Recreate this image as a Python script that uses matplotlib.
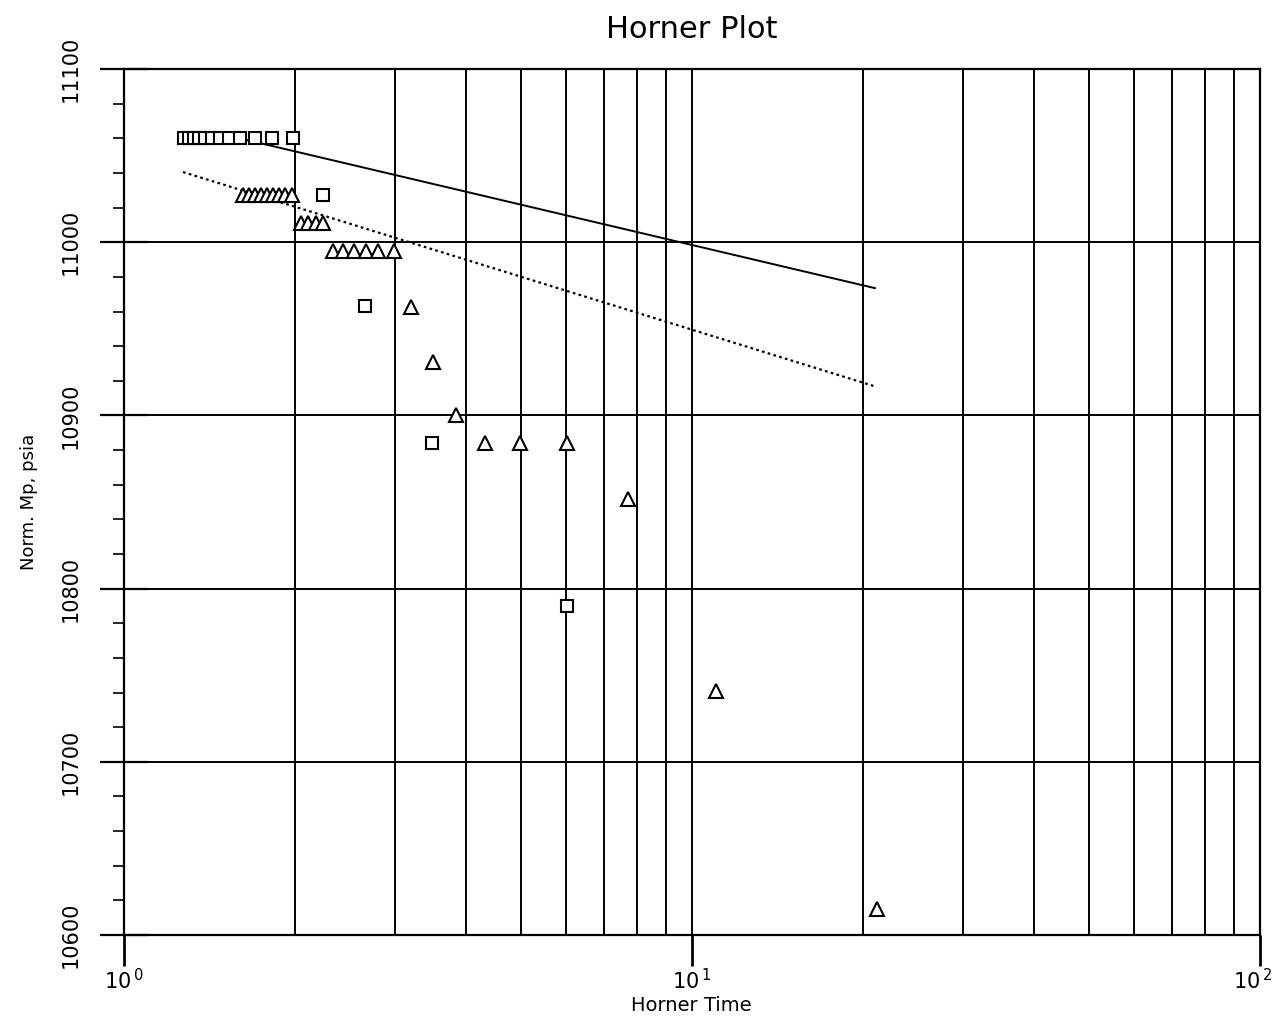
import matplotlib
matplotlib.use("Agg")
import matplotlib.pyplot as plt
from matplotlib.ticker import LogLocator, FixedLocator, MultipleLocator, NullFormatter
from matplotlib.transforms import ScaledTranslation

# Data
sq_x = [1.278, 1.304, 1.331, 1.358, 1.391, 1.431, 1.479, 1.533, 1.604, 1.704, 1.826, 1.988,
        2.24, 2.66, 3.49, 6.03]
sq_y = [11060] * 12 + [11027.5, 10963, 10884, 10790]

tri_x = [1.623, 1.663, 1.704, 1.746, 1.789, 1.833, 1.878, 1.924, 1.980,
         2.051, 2.115, 2.180, 2.242,
         2.341, 2.438, 2.546, 2.673, 2.803, 2.993,
         3.21, 3.50, 3.84, 4.33, 4.995, 6.03, 7.72, 11.04, 21.2]
tri_y = [11027] * 9 + [11011] * 4 + [10995] * 6 + \
        [10962.5, 10931, 10900, 10884, 10884, 10884, 10852, 10741, 10615]

solid_x = [1.28, 1.6, 21.0]
solid_y = [11060, 11060, 10973.5]
dot_x = [1.273, 20.9]
dot_y = [11040.5, 10917]

x_major = [1, 10, 100]
x_major_labels = [r"$10^{\,0}$", r"$10^{\,1}$", r"$10^{\,2}$"]
y_major = [10600, 10700, 10800, 10900, 11000, 11100]

fig = plt.figure(figsize=(12.72, 10.18), dpi=100)
ax = fig.add_axes([0.0971, 0.0815, 0.8935, 0.8507])
ax.set_xscale("log")
ax.set_xlim(1, 100)
ax.set_ylim(10600, 11100)

# grid
ax.xaxis.set_major_locator(FixedLocator(x_major))
ax.xaxis.set_minor_locator(LogLocator(base=10, subs=range(2, 10)))
ax.xaxis.set_minor_formatter(NullFormatter())
ax.set_xticklabels(x_major_labels)
ax.yaxis.set_major_locator(FixedLocator(y_major))
ax.yaxis.set_minor_locator(MultipleLocator(20))
ax.grid(True, which="both", axis="x", color="black", linewidth=1.4)
ax.grid(True, which="major", axis="y", color="black", linewidth=1.4)
ax.set_axisbelow(True)

ax.plot(solid_x, solid_y, color="black", linewidth=1.4)
ax.plot(dot_x, dot_y, color="black", linewidth=1.6, linestyle=(0, (1.2, 1.5)))

ax.plot(sq_x, sq_y, linestyle="none", marker="s", markersize=9,
        markerfacecolor="white", markeredgecolor="black", markeredgewidth=1.5)
ax.plot(tri_x, tri_y, linestyle="none", marker="^", markersize=10,
        markerfacecolor="white", markeredgecolor="black", markeredgewidth=1.5)

for s in ax.spines.values():
    s.set_linewidth(1.6)

ax.tick_params(axis="x", which="major", direction="out", length=22, width=2.0,
               pad=2, labelsize=15, bottom=True)
ax.tick_params(axis="x", which="minor", direction="in", length=5, width=1.2,
               top=True, bottom=True)
ax.tick_params(axis="y", which="major", direction="inout", length=34, width=1.6,
               pad=14, labelsize=15)
ax.tick_params(axis="y", which="minor", direction="out", length=8, width=1.2)
for lbl in ax.get_yticklabels():
    lbl.set_rotation(90)
    lbl.set_va("center")
xl = ax.get_xticklabels()
xl[-1].set_transform(xl[-1].get_transform() + ScaledTranslation(-0.08, 0, fig.dpi_scale_trans))

ax.set_title("Horner Plot", fontsize=22, pad=22)
ax.set_xlabel("Horner Time", fontsize=14, labelpad=2)
ax.set_ylabel("Norm. Mp, psia", fontsize=13, labelpad=16)

fig.savefig("out.png", dpi=100)
